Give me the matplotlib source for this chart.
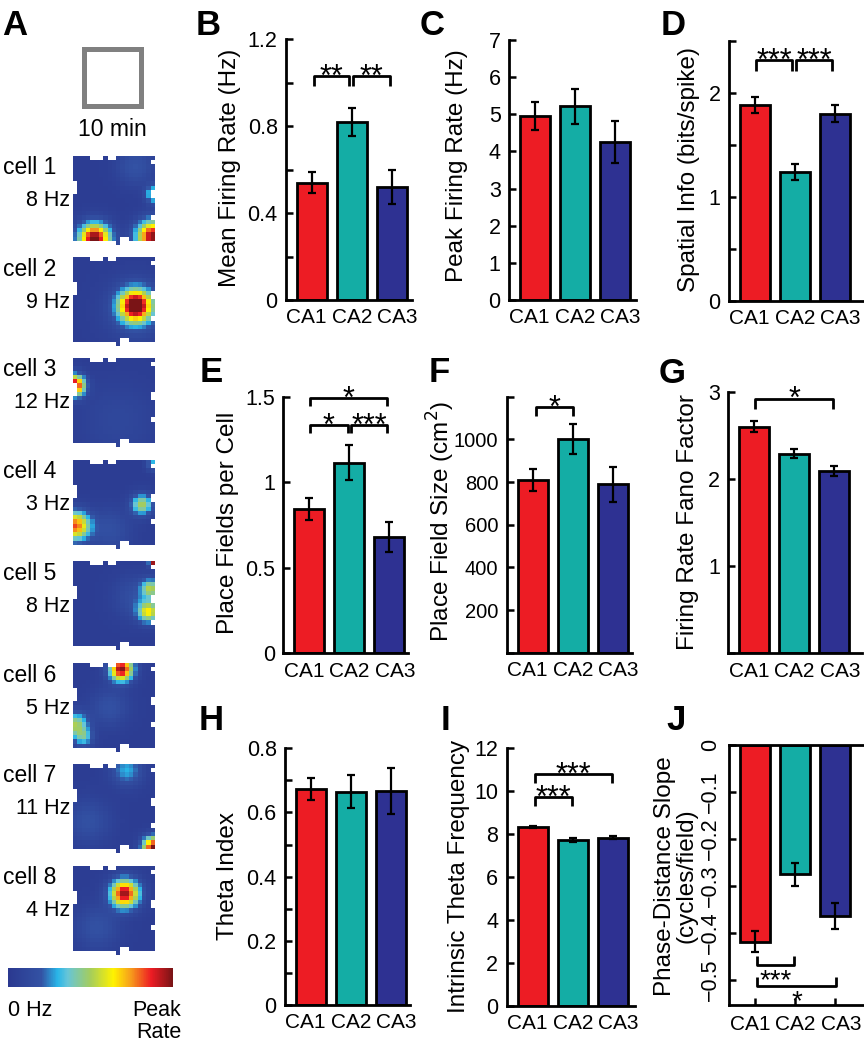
import numpy as np
import matplotlib
matplotlib.use("Agg")
import matplotlib.pyplot as plt
from matplotlib.colors import LinearSegmentedColormap, Normalize
from matplotlib.patches import Rectangle
from matplotlib.cm import ScalarMappable
from matplotlib.transforms import ScaledTranslation

plt.rcParams['font.family'] = ['Liberation Sans', 'DejaVu Sans']

# ---------------- data ----------------
regions = ["CA1", "CA2", "CA3"]
colors = ["#ed1c24", "#14ada5", "#2e3192"]

mean_rate = [0.54, 0.82, 0.52]
mean_rate_err = [0.05, 0.065, 0.08]
peak_rate = [4.95, 5.22, 4.26]
peak_rate_err = [0.38, 0.47, 0.56]
spatial_info = [1.88, 1.24, 1.80]
spatial_info_err = [0.075, 0.075, 0.08]
fields_per_cell = [0.845, 1.115, 0.68]
fields_per_cell_err = [0.065, 0.10, 0.088]
field_size = [809, 1002, 789]
field_size_err = [53, 70, 82]
fano = [2.60, 2.29, 2.09]
fano_err = [0.06, 0.05, 0.055]
theta_index = [0.672, 0.665, 0.668]
theta_index_err = [0.034, 0.052, 0.072]
theta_freq = [8.34, 7.74, 7.84]
theta_freq_err = [0.06, 0.10, 0.08]
phase_slope = [-0.418, -0.275, -0.364]
phase_slope_err = [0.022, 0.024, 0.028]

cell_names = ["cell 1", "cell 2", "cell 3", "cell 4", "cell 5", "cell 6", "cell 7", "cell 8"]
cell_peaks = ["8 Hz", "9 Hz", "12 Hz", "3 Hz", "8 Hz", "5 Hz", "11 Hz", "4 Hz"]
# place fields per example cell: (row, col, width in bins, relative rate)
cell_fields = [
    [(19, 4.5, 2.5, 1.0), (18.5, 18, 2.6, 0.95), (8.5, 18.5, 1.4, 0.45), (2, 14, 3.0, 0.16)],
    [(11, 14, 2.6, 1.0), (12, 14, 5.0, 0.14)],
    [(6, -0.3, 1.7, 1.0), (14, 10, 6.0, 0.08)],
    [(15, 0, 2.3, 0.78), (10, 15.5, 1.7, 0.47), (0.5, 18, 1.0, 0.3), (16, 8, 3.5, 0.14)],
    [(0, 18.3, 0.7, 1.0), (6, 17.5, 1.5, 0.42), (11.5, 17, 1.7, 0.56), (8, 14, 3.5, 0.14)],
    [(1, 10.7, 1.9, 0.95), (14, 0, 2.0, 0.45), (17, 2, 1.5, 0.3), (10, 8, 3.0, 0.15)],
    [(19.3, 18.3, 1.8, 1.0), (1, 12, 2.5, 0.26), (13, 3, 3.5, 0.15)],
    [(6, 11.5, 2.3, 0.93), (14, 5, 3.5, 0.15)],
]
missing_bins = ([(0, c) for c in (4, 5, 6, 8, 9)] + [(r, 0) for r in (6, 7, 8)]
                + [(r, 18) for r in (1, 8, 9, 14)] + [(19, 11), (19, 12)]
                + [(20, c) for c in range(19) if c != 10])

jet_like = ["#2b3990", "#3352a4", "#29b6e8", "#66c5d8", "#a5cd5c", "#fff200",
            "#f7a21b", "#ed1c24", "#7a1416"]
jet_stops = [0.0, 0.2, 0.3, 0.36, 0.5, 0.64, 0.74, 0.87, 1.0]
cmap = LinearSegmentedColormap.from_list("ratemap", list(zip(jet_stops, jet_like)))
cmap.set_bad("white")

# ---------------- figure ----------------
W, H = 864, 1050
fig = plt.figure(figsize=(W / 100, H / 100), dpi=100)


def add_ax(l, t, r, b):
    return fig.add_axes([l / W, 1 - b / H, (r - l) / W, (b - t) / H])


def fig_text(x, y, s, **kw):
    fig.text(x / W, 1 - y / H, s, **kw)


# panel A
axA = fig.add_axes([0, 0, 190 / W, 1])
axA.axis("off")
axA.add_patch(Rectangle((84.2, 49.2), 56.6, 56.6, fill=False, ec="#808080", lw=3.6))
axA.text(112.5, 130, "10 min", ha="center", va="center", fontsize=16.5)

rr, cc = np.mgrid[0:21, 0:19]
tops = [156, 257, 358, 460, 561.5, 663, 764, 866]
for k in range(8):
    m = np.full(rr.shape, 0.04)
    for r0, c0, s, a in cell_fields[k]:
        m += a * np.exp(-((rr - r0) ** 2 + (cc - c0) ** 2) / (2 * s * s))
    m = np.clip(m, 0, 1)
    for r0, c0 in missing_bins:
        m[r0, c0] = np.nan
    t = tops[k]
    axA.imshow(m, cmap=cmap, vmin=0, vmax=1, interpolation="nearest",
               extent=(72.7, 154, t + 88.9, t), aspect="auto")
    axA.text(3, t + 12, cell_names[k], ha="left", va="center", fontsize=16.5)
    axA.text(70.5, t + 45, cell_peaks[k], ha="right", va="center", fontsize=15.5)

axA.text(8, 1011, "0 Hz", ha="left", va="center", fontsize=15.5)
axA.text(181, 1010, "Peak", ha="right", va="center", fontsize=15.5)
axA.text(181, 1032, "Rate", ha="right", va="center", fontsize=15.5)
axA.set_xlim(0, 190)
axA.set_ylim(H, 0)

cax = add_ax(8.3, 968.3, 172.7, 987.3)
cb = fig.colorbar(ScalarMappable(norm=Normalize(0, 1), cmap=cmap), cax=cax,
                  orientation="horizontal")
cb.set_ticks([])
cb.outline.set_visible(False)

# ---------------- bar panels ----------------
x = np.arange(1, 4)
label_shift = [-0.055, 0.0, 0.055]  # inches; region names sit a bit wider than bars


def bar_panel(box, vals, errs, ylim, yticks, ylabels, xpad=6):
    l, t, r, b = box
    ax = add_ax(l, t, r, b)
    ax.bar(x, vals, 0.75, color=colors, edgecolor="black", linewidth=2, zorder=2)
    ax.errorbar(x, vals, yerr=errs, fmt="none", ecolor="black", elinewidth=1.6,
                capsize=3, capthick=1.6, zorder=3)
    ax.set_xlim(0.35, 0.35 + (r - l) / 40.0)
    ax.set_ylim(*ylim)
    ax.set_yticks(yticks)
    ax.set_yticklabels(ylabels)
    ax.set_xticks(x)
    ax.set_xticklabels(regions)
    for s in ["top", "right"]:
        ax.spines[s].set_visible(False)
    for s in ["left", "bottom"]:
        ax.spines[s].set_linewidth(2)
    ax.tick_params(direction="in", length=5, width=1.8, labelsize=15.5, pad=6)
    ax.tick_params(axis="x", labelsize=15, pad=xpad)
    for lab, dx in zip(ax.get_xticklabels(), label_shift):
        lab.set_transform(lab.get_transform() + ScaledTranslation(dx, 0, fig.dpi_scale_trans))
    return ax


def bracket(ax, x1, x2, y, drop, stars, below=False, fs=22):
    ax.plot([x1, x1, x2, x2], [y - drop, y, y, y - drop], color="black", lw=2,
            clip_on=False, solid_capstyle="butt", zorder=4)
    dy = -17 if below else -7
    ax.annotate(stars, ((x1 + x2) / 2, y), xytext=(0, dy), textcoords="offset points",
                ha="center", va="baseline", fontsize=fs, annotation_clip=False)


def ylabel(xc, yc, s):
    fig_text(xc, yc, s, rotation=90, ha="center", va="center", fontsize=17.5,
             linespacing=0.95)


# B
axB = bar_panel((286, 39, 412, 300), mean_rate, mean_rate_err, (0, 1.2),
                np.arange(0, 1.21, 0.2), ["0", "", "0.4", "", "0.8", "", "1.2"])
bracket(axB, 1.04, 1.93, 1.03, 0.045, "**")
bracket(axB, 2.03, 2.95, 1.03, 0.045, "**")
ylabel(230, 168, "Mean Firing Rate (Hz)")

# C
axC = bar_panel((509, 40, 636, 300), peak_rate, peak_rate_err, (0, 7),
                range(8), [str(v) for v in range(8)])
ylabel(457, 166, "Peak Firing Rate (Hz)")

# D
axD = bar_panel((729, 40.7, 863, 300.7), spatial_info, spatial_info_err, (0, 2.5),
                np.arange(0, 2.51, 0.5), ["0", "", "1", "", "2", ""])
bracket(axD, 1.02, 1.93, 2.31, 0.1, "***")
bracket(axD, 2.02, 2.93, 2.31, 0.1, "***")
ylabel(689, 170, "Spatial Info (bits/spike)")

# E
axE = bar_panel((283.3, 396.7, 408, 653.3), fields_per_cell, fields_per_cell_err, (0, 1.5),
                [0, 0.5, 1, 1.5], ["0", "0.5", "1", "1.5"])
bracket(axE, 1.02, 2.95, 1.49, 0.045, "*")
bracket(axE, 1.02, 1.96, 1.333, 0.048, "*")
bracket(axE, 2.03, 2.95, 1.333, 0.048, "***")
ylabel(228, 523, "Place Fields per Cell")

# F
axF = bar_panel((506.7, 396.7, 632, 652.7), field_size, field_size_err, (0, 1200),
                range(0, 1201, 200), ["", "200", "400", "600", "800", "1000", ""])
axF.tick_params(axis="y", labelsize=14.5)
bracket(axF, 1.08, 2.0, 1150, 40, "*")
ylabel(441, 521, "Place Field Size (cm$^2$)")

# G
axG = bar_panel((728.3, 391.7, 862, 653.3), fano, fano_err, (0, 3),
                [0, 1, 2, 3], ["", "1", "2", "3"])
bracket(axG, 1.02, 2.97, 2.92, 0.12, "*")
ylabel(688, 522, "Firing Rate Fano Factor")

# H
axH = bar_panel((285, 748.3, 410, 1005), theta_index, theta_index_err, (0, 0.8),
                np.arange(0, 0.81, 0.1), ["0", "", "0.2", "", "0.4", "", "0.6", "", "0.8"])
ylabel(228, 876, "Theta Index")

# I
axI = bar_panel((506.7, 748.3, 635, 1006), theta_freq, theta_freq_err, (0, 12),
                range(0, 13, 2), [str(v) for v in range(0, 13, 2)])
bracket(axI, 1.06, 2.98, 10.8, 0.43, "***")
bracket(axI, 1.06, 1.98, 9.72, 0.39, "***")
ylabel(459, 876, "Intrinsic Theta Frequency")

# J
axJ = bar_panel((729.3, 745, 863, 1005), phase_slope, phase_slope_err, (-0.553, 0),
                [-0.5, -0.4, -0.3, -0.2, -0.1, 0],
                ["\u22120.5", "\u22120.4", "\u22120.3", "\u22120.2", "\u22120.1", "0"],
                xpad=7.5)
axJ.spines["top"].set_visible(True)
axJ.spines["top"].set_linewidth(2)
for lab in axJ.get_yticklabels():
    lab.set_rotation(90)
    lab.set_va("center")
bracket(axJ, 1.04, 1.96, -0.468, -0.019, "***", below=True, fs=20)
bracket(axJ, 1.04, 3.02, -0.512, -0.018, "*", below=True, fs=20)
ylabel(676, 876, "Phase-Distance Slope\n(cycles/field)")

# panel letters
letters = ["A", "B", "C", "D", "E", "F", "G", "H", "I", "J"]
letter_x = [2, 196, 420, 660.7, 200, 428.3, 658.3, 198.3, 440.7, 666.7]
letter_y = [35, 35, 35, 35, 381.7, 381.7, 383, 730, 730, 730]
for s, lx, ly in zip(letters, letter_x, letter_y):
    fig_text(lx, ly, s, fontsize=25, fontweight="bold", ha="left", va="baseline")

fig.savefig("out.png", dpi=100)
